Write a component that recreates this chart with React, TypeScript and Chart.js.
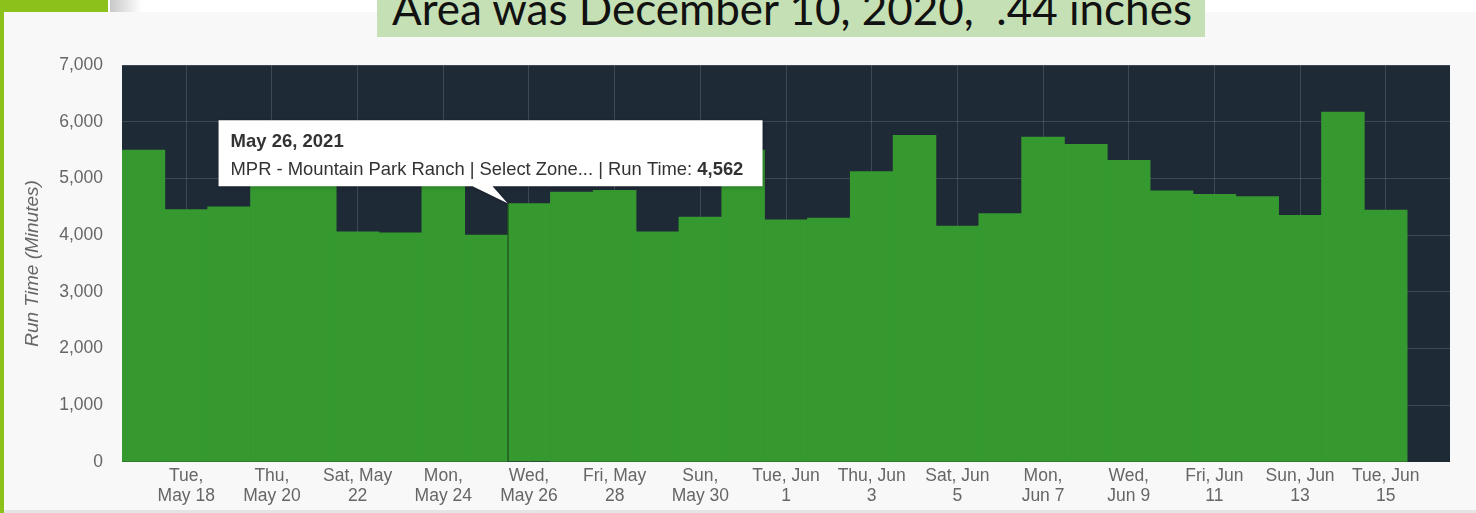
import React, { useEffect, useRef } from "react";
import { Chart, registerables } from "chart.js";

Chart.register(...registerables);

// ---- data ----
const categories = [
  "May 17", "May 18", "May 19", "May 20", "May 21", "May 22", "May 23", "May 24",
  "May 25", "May 26", "May 27", "May 28", "May 29", "May 30", "May 31", "Jun 1",
  "Jun 2", "Jun 3", "Jun 4", "Jun 5", "Jun 6", "Jun 7", "Jun 8", "Jun 9",
  "Jun 10", "Jun 11", "Jun 12", "Jun 13", "Jun 14", "Jun 15", "Jun 16",
];

const tickLabels: (string | string[])[] = [
  "", ["Tue,", "May 18"], "", ["Thu,", "May 20"], "", ["Sat, May", "22"], "",
  ["Mon,", "May 24"], "", ["Wed,", "May 26"], "", ["Fri, May", "28"], "",
  ["Sun,", "May 30"], "", ["Tue, Jun", "1"], "", ["Thu, Jun", "3"], "",
  ["Sat, Jun", "5"], "", ["Mon,", "Jun 7"], "", ["Wed,", "Jun 9"], "",
  ["Fri, Jun", "11"], "", ["Sun, Jun", "13"], "", ["Tue, Jun", "15"], "",
];

const runTime: (number | null)[] = [
  5500, 4450, 4500, 5300, 5200, 4060, 4040, 5100, 4000, 4562, 4760, 4790, 4060,
  4320, 5500, 4270, 4300, 5120, 5760, 4160, 4380, 5730, 5600, 5320, 4780, 4720,
  4680, 4350, 6170, 4440, null,
];

const yMin = 0;
const yMax = 7000;
const yStep = 1000;

const yTitle = "Run Time (Minutes)";
const headline = "Area was December 10, 2020,  .44 inches";

const tooltipIndex = 9;
const tooltipDate = "May 26, 2021";
const tooltipSeries = "MPR - Mountain Park Ranch | Select Zone... | Run Time: ";
const tooltipValue = "4,562";

const FONT = "'Liberation Sans', Arial, sans-serif";

export default function App() {
  const canvasRef = useRef<HTMLCanvasElement | null>(null);

  useEffect(() => {
    const canvas = canvasRef.current;
    if (!canvas) return;

    const plotBg = {
      id: "plotBg",
      beforeDraw(chart: any) {
        const { ctx, chartArea } = chart;
        ctx.save();
        ctx.fillStyle = "#1f2a37";
        ctx.fillRect(chartArea.left, chartArea.top, chartArea.right - chartArea.left, chartArea.bottom - chartArea.top);
        ctx.restore();
      },
    };

    const callout = {
      id: "callout",
      afterDraw(chart: any) {
        const el = chart.getDatasetMeta(0).data[tooltipIndex];
        if (!el) return;
        const { ctx } = chart;
        const ax = el.x - el.width / 2;
        const ay = el.y;
        const left = ax - 289;
        const right = ax + 255;
        const top = ay - 83;
        const bottom = ay - 17;
        ctx.save();
        ctx.beginPath();
        ctx.moveTo(left, top);
        ctx.lineTo(right, top);
        ctx.lineTo(right, bottom);
        ctx.lineTo(ax - 15, bottom);
        ctx.lineTo(ax, ay);
        ctx.lineTo(ax - 35, bottom);
        ctx.lineTo(left, bottom);
        ctx.closePath();
        ctx.shadowColor = "rgba(0,0,0,0.25)";
        ctx.shadowBlur = 4;
        ctx.shadowOffsetX = 1;
        ctx.shadowOffsetY = 1;
        ctx.fillStyle = "#ffffff";
        ctx.fill();
        ctx.shadowColor = "transparent";
        ctx.fillStyle = "#333333";
        ctx.textBaseline = "alphabetic";
        ctx.textAlign = "left";
        ctx.font = `bold 18.5px ${FONT}`;
        ctx.fillText(tooltipDate, left + 12, ay - 56);
        ctx.font = `18.4px ${FONT}`;
        ctx.fillText(tooltipSeries, left + 12, ay - 28);
        const w = ctx.measureText(tooltipSeries).width;
        ctx.font = `bold 18.4px ${FONT}`;
        ctx.fillText(tooltipValue, left + 12 + w, ay - 28);
        ctx.restore();
      },
    };

    const chart = new Chart(canvas, {
      type: "bar",
      data: {
        labels: categories,
        datasets: [
          {
            data: runTime,
            backgroundColor: "#35992f",
            borderColor: "#22591f",
            borderWidth: (ctx: any) => (ctx.dataIndex === tooltipIndex ? { left: 1.5, top: 0, right: 0, bottom: 0 } : 0),
            borderSkipped: false,
            barPercentage: 1,
            categoryPercentage: 1,
          } as any,
        ],
      },
      options: {
        responsive: false,
        animation: false,
        devicePixelRatio: 1,
        layout: { padding: { left: 0, top: 65, right: 26, bottom: 0 } },
        plugins: { legend: { display: false }, tooltip: { enabled: false } },
        scales: {
          x: {
            type: "category",
            offset: true,
            border: { display: false },
            grid: {
              offset: false,
              drawTicks: false,
              color: (ctx: any) => (ctx.index % 2 === 1 ? "rgba(255,255,255,0.14)" : "rgba(0,0,0,0)"),
            },
            ticks: {
              autoSkip: false,
              maxRotation: 0,
              minRotation: 0,
              color: "#666666",
              padding: 4,
              font: { family: FONT, size: 17.5, lineHeight: "20px" as any },
              callback: (_v: any, i: number) => tickLabels[i],
            },
            afterFit: (s: any) => {
              s.height = 51;
            },
          },
          y: {
            min: yMin,
            max: yMax,
            border: { display: false },
            grid: { drawTicks: false, color: "rgba(255,255,255,0.14)" },
            ticks: {
              stepSize: yStep,
              color: "#666666",
              padding: 19,
              font: { family: FONT, size: 17.5 },
              callback: (v: any) => Number(v).toLocaleString("en-US"),
            },
            title: {
              display: true,
              text: yTitle,
              color: "#666666",
              font: { family: FONT, size: 19, style: "italic" },
              padding: { top: 21, bottom: 0 },
            },
            afterFit: (s: any) => {
              s.width = 122;
            },
          },
        },
      },
      plugins: [plotBg, callout],
    } as any);

    return () => chart.destroy();
  }, []);

  return (
    <div
      style={{
        position: "absolute",
        left: 0,
        top: 0,
        width: 1476,
        height: 513,
        overflow: "hidden",
        background: "#f8f8f8",
      }}
    >
      <div style={{ position: "absolute", left: 0, top: 0, width: 1476, height: 12, background: "#ffffff" }} />
      <div
        style={{
          position: "absolute",
          left: 110,
          top: 0,
          width: 32,
          height: 12,
          background: "linear-gradient(to right, #c8c8c8, #ffffff)",
        }}
      />
      <div style={{ position: "absolute", left: 0, top: 0, width: 108, height: 12, background: "#8bc11a" }} />
      <div style={{ position: "absolute", left: 0, top: 0, width: 4, height: 513, background: "#8bc11a" }} />
      <div style={{ position: "absolute", left: 4, top: 510, width: 1472, height: 3, background: "#e4e4e4" }} />
      <div
        style={{
          position: "absolute",
          left: 377,
          top: 0,
          width: 828,
          height: 37,
          background: "#c5e0b4",
          overflow: "hidden",
        }}
      >
        <div
          style={{
            position: "absolute",
            left: 15,
            top: -17,
            whiteSpace: "pre",
            fontFamily: "Lato, 'Noto Sans', sans-serif",
            fontSize: 44,
            lineHeight: "50px",
            color: "#111111",
          }}
        >
          {headline}
        </div>
      </div>
      <canvas
        ref={canvasRef}
        width={1476}
        height={513}
        style={{ position: "absolute", left: 0, top: 0, width: 1476, height: 513 }}
      />
    </div>
  );
}
